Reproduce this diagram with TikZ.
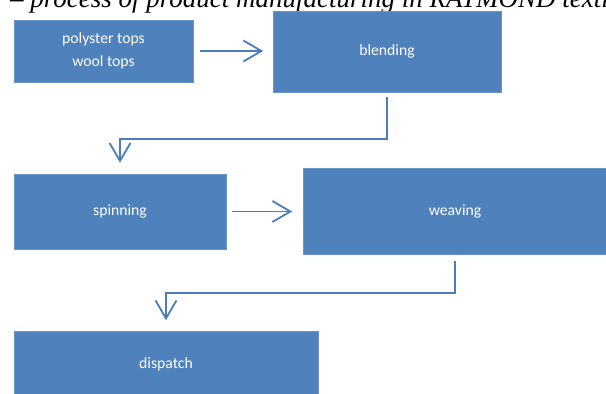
\documentclass[tikz,border=0pt]{standalone}
\usepackage{fontspec}
\setmainfont{Liberation Serif}
\newfontfamily\boxfont{Carlito}
\usetikzlibrary{arrows.meta}
\definecolor{boxblue}{HTML}{4F81BD}
\definecolor{lineblue}{HTML}{4A7EBB}
\tikzset{
  stagebox/.style={fill=boxblue, draw=boxblue!85!white, line width=0.6pt, text=white, inner sep=0pt,
    font=\boxfont\fontsize{15.7}{23}\selectfont, align=center},
  conn/.style={draw=lineblue, line width=1.8pt,
    -{Straight Barb[length=18pt,width=21pt,line width=1.8pt]}},
}
\begin{document}
\begin{tikzpicture}[x=1pt,y=-1pt]
\useasboundingbox (0,0) rectangle (606,394);
\clip (0,0) rectangle (606,394);
% title (cut off at the top, as in the source)
\node[anchor=base west, inner sep=0pt, font=\rmfamily\itshape\fontsize{27}{32}\selectfont] (title) at (10,7.5)
  {– process of product manufacturing in RAYMOND textiles};
% boxes
\node[stagebox, minimum width=179pt, minimum height=62pt] (tops) at (103.5,51) {polyster tops\\wool tops};
\node[stagebox, minimum width=228pt, minimum height=81pt] (blending) at (387,51.5) {blending};
\node[stagebox, minimum width=212pt, minimum height=75pt] (spinning) at (120,211.5) {spinning};
\node[stagebox, minimum width=304pt, minimum height=86pt] (weaving) at (455,211.5) {weaving};
\node[stagebox, minimum width=304pt, minimum height=66pt] (dispatch) at (166,364) {dispatch};
% connectors
\draw[conn] ([xshift=7pt]tops.east) -- ([xshift=-9.5pt]blending.west |- tops.east);
\draw[conn] ([yshift=-5pt]blending.south) -- ++(0,41.5) -| ([yshift=11pt]spinning.north);
\draw[conn] ([xshift=6pt]spinning.east) -- ([xshift=-10.5pt]weaving.west |- spinning.east);
\draw[conn] ([yshift=-6pt]weaving.south) -- ++(0,32.5) -| ([yshift=10.5pt]dispatch.north);
\end{tikzpicture}
\end{document}
